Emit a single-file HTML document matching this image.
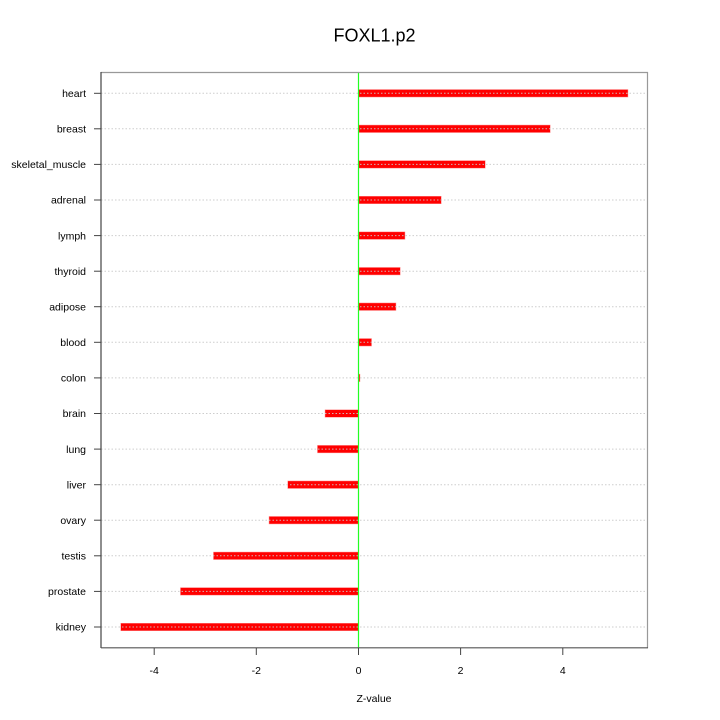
<!DOCTYPE html>
<html><head><meta charset="utf-8"><style>
html,body{margin:0;padding:0;background:#fff;}
svg{display:block;}
text{font-family:"Liberation Sans",Arial,sans-serif;fill:#000;}
</style></head><body>
<svg width="720" height="720" viewBox="0 0 720 720" xmlns="http://www.w3.org/2000/svg">
<rect width="720" height="720" fill="#fff"/>
<text x="374.5" y="41.5" font-size="18" text-anchor="middle">FOXL1.p2</text>
<g stroke="#f00" stroke-opacity="0.45" stroke-width="1" fill="#f00">
<rect x="358.5" y="89.8" width="269.2" height="7"/>
<rect x="358.5" y="125.3" width="191.5" height="7"/>
<rect x="358.5" y="160.9" width="126.5" height="7"/>
<rect x="358.5" y="196.5" width="82.5" height="7"/>
<rect x="358.5" y="232.1" width="46.2" height="7"/>
<rect x="358.5" y="267.7" width="41.5" height="7"/>
<rect x="358.5" y="303.2" width="37.2" height="7"/>
<rect x="358.5" y="338.8" width="12.8" height="7"/>
<rect x="358.5" y="374.4" width="1.2" height="7"/>
<rect x="325.3" y="410.0" width="33.2" height="7"/>
<rect x="317.7" y="445.6" width="40.8" height="7"/>
<rect x="288.0" y="481.2" width="70.5" height="7"/>
<rect x="269.3" y="516.7" width="89.2" height="7"/>
<rect x="213.7" y="552.3" width="144.8" height="7"/>
<rect x="180.7" y="587.9" width="177.8" height="7"/>
<rect x="121.0" y="623.5" width="237.5" height="7"/>
</g>
<g stroke="#c8c8c8" stroke-width="1" stroke-dasharray="1.5,2" opacity="0.9">
<line x1="101" x2="647" y1="93.3" y2="93.3"/>
<line x1="101" x2="647" y1="128.8" y2="128.8"/>
<line x1="101" x2="647" y1="164.4" y2="164.4"/>
<line x1="101" x2="647" y1="200.0" y2="200.0"/>
<line x1="101" x2="647" y1="235.6" y2="235.6"/>
<line x1="101" x2="647" y1="271.2" y2="271.2"/>
<line x1="101" x2="647" y1="306.7" y2="306.7"/>
<line x1="101" x2="647" y1="342.3" y2="342.3"/>
<line x1="101" x2="647" y1="377.9" y2="377.9"/>
<line x1="101" x2="647" y1="413.5" y2="413.5"/>
<line x1="101" x2="647" y1="449.1" y2="449.1"/>
<line x1="101" x2="647" y1="484.7" y2="484.7"/>
<line x1="101" x2="647" y1="520.2" y2="520.2"/>
<line x1="101" x2="647" y1="555.8" y2="555.8"/>
<line x1="101" x2="647" y1="591.4" y2="591.4"/>
<line x1="101" x2="647" y1="627.0" y2="627.0"/>
</g>
<line x1="358.5" x2="358.5" y1="72" y2="648" stroke="#22ff22" stroke-width="1.2"/>
<g stroke-width="1.2">
<line x1="101" x2="648" y1="72.5" y2="72.5" stroke="#999"/>
<line x1="647.5" x2="647.5" y1="72" y2="648" stroke="#999"/>
<line x1="101" x2="101" y1="72" y2="648" stroke="#444"/>
<line x1="101" x2="648" y1="647.8" y2="647.8" stroke="#555"/>
</g>
<g stroke="#444" stroke-width="1">
<line x1="94" x2="101" y1="93.3" y2="93.3"/>
<line x1="94" x2="101" y1="128.8" y2="128.8"/>
<line x1="94" x2="101" y1="164.4" y2="164.4"/>
<line x1="94" x2="101" y1="200.0" y2="200.0"/>
<line x1="94" x2="101" y1="235.6" y2="235.6"/>
<line x1="94" x2="101" y1="271.2" y2="271.2"/>
<line x1="94" x2="101" y1="306.7" y2="306.7"/>
<line x1="94" x2="101" y1="342.3" y2="342.3"/>
<line x1="94" x2="101" y1="377.9" y2="377.9"/>
<line x1="94" x2="101" y1="413.5" y2="413.5"/>
<line x1="94" x2="101" y1="449.1" y2="449.1"/>
<line x1="94" x2="101" y1="484.7" y2="484.7"/>
<line x1="94" x2="101" y1="520.2" y2="520.2"/>
<line x1="94" x2="101" y1="555.8" y2="555.8"/>
<line x1="94" x2="101" y1="591.4" y2="591.4"/>
<line x1="94" x2="101" y1="627.0" y2="627.0"/>
<line x1="154.2" x2="154.2" y1="648" y2="655"/>
<line x1="256.3" x2="256.3" y1="648" y2="655"/>
<line x1="358.5" x2="358.5" y1="648" y2="655"/>
<line x1="460.6" x2="460.6" y1="648" y2="655"/>
<line x1="562.8" x2="562.8" y1="648" y2="655"/>
</g>
<g font-size="10.5" text-anchor="end">
<text x="86" y="97">heart</text>
<text x="86" y="132.5">breast</text>
<text x="86" y="168.1">skeletal_muscle</text>
<text x="86" y="203.7">adrenal</text>
<text x="86" y="239.3">lymph</text>
<text x="86" y="274.9">thyroid</text>
<text x="86" y="310.4">adipose</text>
<text x="86" y="346">blood</text>
<text x="86" y="381.6">colon</text>
<text x="86" y="417.2">brain</text>
<text x="86" y="452.8">lung</text>
<text x="86" y="488.4">liver</text>
<text x="86" y="523.9">ovary</text>
<text x="86" y="559.5">testis</text>
<text x="86" y="595.1">prostate</text>
<text x="86" y="630.7">kidney</text>
</g>
<g font-size="10.5" text-anchor="middle">
<text x="154.2" y="674">-4</text>
<text x="256.3" y="674">-2</text>
<text x="358.5" y="674">0</text>
<text x="460.6" y="674">2</text>
<text x="562.8" y="674">4</text>
<text x="374" y="702">Z-value</text>
</g>
</svg>
</body></html>
